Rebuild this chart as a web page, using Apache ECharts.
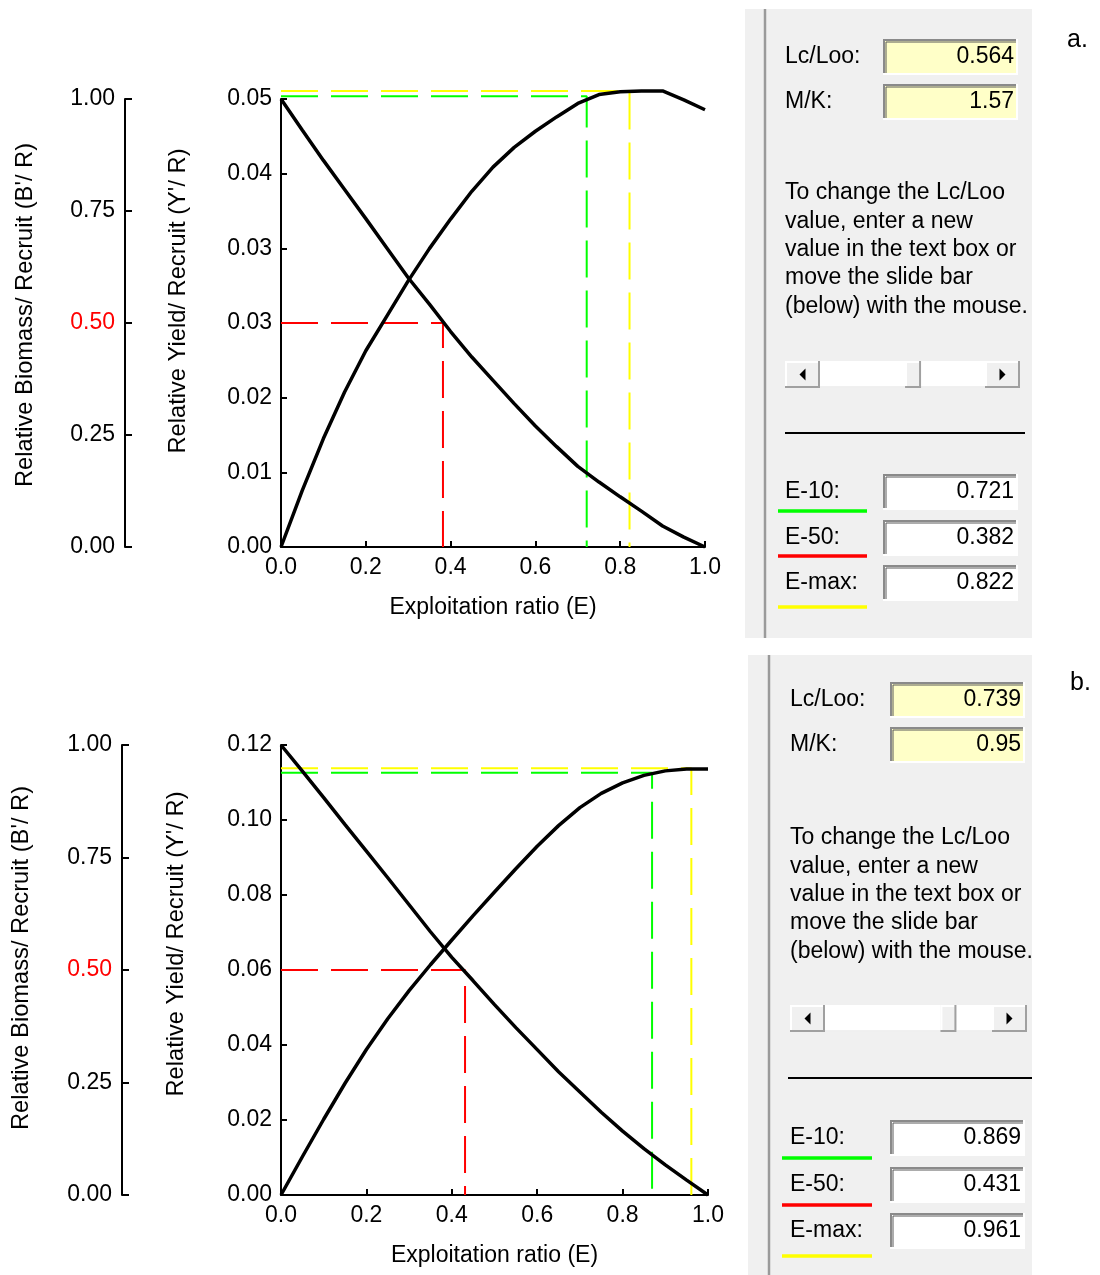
<!DOCTYPE html>
<html><head><meta charset="utf-8">
<script src="https://cdn.jsdelivr.net/npm/echarts@6/dist/echarts.min.js"></script>
<style>html,body{margin:0;padding:0;background:#fff}#c{width:1100px;height:1275px}</style>
</head><body><div id="c"></div>
<script>
// ---------- data ----------
const E = [0,0.05,0.1,0.15,0.2,0.25,0.3,0.35,0.4,0.45,0.5,0.55,0.6,0.65,0.7,0.75,0.8,0.85,0.9,0.95,1.0];
// panel a (Lc/Loo = 0.564, M/K = 1.57)
const biomassA = [1.0,0.931,0.863,0.798,0.733,0.667,0.601,0.542,0.481,0.424,0.372,0.320,0.270,0.224,0.180,0.145,0.112,0.080,0.047,0.022,0.0];
const yieldA   = [0,0.0063,0.0121,0.0173,0.0219,0.0258,0.0297,0.0333,0.0366,0.0397,0.0424,0.0446,0.0464,0.0480,0.0495,0.0505,0.0508,0.0509,0.0509,0.0499,0.0488];
// panel b (Lc/Loo = 0.739, M/K = 0.95)
const biomassB = [1.0,0.942,0.883,0.823,0.764,0.705,0.645,0.585,0.528,0.476,0.423,0.372,0.323,0.274,0.229,0.184,0.142,0.103,0.067,0.033,0.0];
const yieldB   = [0,0.0102,0.0202,0.0298,0.0388,0.0470,0.0545,0.0614,0.0680,0.0745,0.0808,0.0870,0.0930,0.0985,0.1033,0.1071,0.1099,0.1119,0.1131,0.1136,0.1136];
// axis tick labels
const xTickLabels = ['0.0','0.2','0.4','0.6','0.8','1.0'];
const biomassTickLabels = ['0.00','0.25','0.50','0.75','1.00'];
const yieldTickLabelsA = ['0.00','0.01','0.02','0.03','0.03','0.04','0.05'];
const yieldTickLabelsB = ['0.00','0.02','0.04','0.06','0.08','0.10','0.12'];
const yieldMaxA = 0.05, yieldMaxB = 0.12;
// E-10, E-50, E-max
const eLabels = ['E-10:','E-50:','E-max:'];
const eValuesA = [0.721, 0.382, 0.822];
const eValuesB = [0.869, 0.431, 0.961];
// levels of the reference lines: Y'/R at E-10, B'/R = 50%, Y'/R max
const refLevelsA = [0.0503, 0.5, 0.0509];
const refLevelsB = [0.1126, 0.5, 0.1138];
const paramLabels = ['Lc/Loo:', 'M/K:'];
const paramsA = ['0.564', '1.57'];
const paramsB = ['0.739', '0.95'];
const helpLines = ['To change the Lc/Loo','value, enter a new','value in the text box or','move the slide bar','(below) with the mouse.'];
const panelLetters = ['a.', 'b.'];
const xName = 'Exploitation ratio (E)';
const biomassName = "Relative Biomass/ Recruit (B'/ R)";
const yieldName = "Relative Yield/ Recruit (Y'/ R)";

// ---------- styling ----------
const FONT = 'Liberation Sans, Arial, sans-serif';
const FS = 23;
const refColors = ['#00ff00', '#ff0000', '#ffff00'];
const dash = [37, 13];

const grids = [
  {left: 281, top: 99, width: 424, height: 448},
  {left: 281, top: 745, width: 427, height: 450}
];
const biomassOffsets = [156, 159];

function xAxisFor(i) {
  return {
    gridIndex: i, type: 'value', min: 0, max: 1, interval: 0.2,
    name: xName, nameLocation: 'middle', nameGap: 49,
    nameTextStyle: {color: '#000', fontSize: FS, fontFamily: FONT},
    axisLine: {lineStyle: {color: '#000', width: 2}},
    axisTick: {inside: true, length: 6, lineStyle: {color: '#000', width: 2}},
    axisLabel: {color: '#000', fontSize: FS, fontFamily: FONT, margin: 9,
      formatter: v => xTickLabels[Math.round(v / 0.2)]},
    splitLine: {show: false}
  };
}
function biomassAxisFor(i) {
  return {
    gridIndex: i, type: 'value', position: 'left', offset: biomassOffsets[i],
    min: 0, max: 1, interval: 0.25,
    axisLine: {show: true, onZero: false, lineStyle: {color: '#000', width: 2}},
    axisTick: {show: true, inside: true, length: 7, lineStyle: {color: '#000', width: 2}},
    axisLabel: {fontSize: FS, fontFamily: FONT, margin: 10,
      color: v => Math.abs(+v - 0.5) < 1e-9 ? '#ff0000' : '#000',
      formatter: v => biomassTickLabels[Math.round(v / 0.25)]},
    splitLine: {show: false}
  };
}
function yieldAxisFor(i, max, labels) {
  const iv = max / 6;
  return {
    gridIndex: i, type: 'value', position: 'left', offset: 0,
    min: 0, max: max, interval: iv,
    axisLine: {show: true, onZero: false, lineStyle: {color: '#000', width: 2}},
    axisTick: {show: true, inside: true, length: 6, lineStyle: {color: '#000', width: 2}},
    axisLabel: {color: '#000', fontSize: FS, fontFamily: FONT, margin: 9,
      formatter: v => labels[Math.round(v / iv)]},
    splitLine: {show: false}
  };
}

function curve(xi, yi, ys) {
  return {type: 'line', xAxisIndex: xi, yAxisIndex: yi, data: E.map((e, k) => [e, ys[k]]),
    symbol: 'none', clip: false, z: 5, silent: true,
    lineStyle: {color: '#000', width: 3.5}};
}
function refLine(xi, yi, e, level, color) {
  return {type: 'line', xAxisIndex: xi, yAxisIndex: yi,
    data: [[0, level], [e, level], [e, 0]],
    symbol: 'none', clip: false, z: 3, silent: true,
    lineStyle: {color: color, width: 2, type: dash}};
}

function seriesFor(i, bio, yld, evals, levels) {
  const bIdx = i * 2, yIdx = i * 2 + 1;
  return [
    refLine(i, yIdx, evals[0], levels[0], refColors[0]),
    refLine(i, bIdx, evals[1], levels[1], refColors[1]),
    refLine(i, yIdx, evals[2], levels[2], refColors[2]),
    curve(i, bIdx, bio),
    curve(i, yIdx, yld)
  ];
}

// ---------- the Windows-style side panel (decoration) ----------
function txt(x, y, s, opts) {
  return Object.assign({type: 'text', x: x, y: y, silent: true,
    style: Object.assign({text: s, fill: '#000', font: FS + 'px ' + FONT,
      textAlign: 'left', textVerticalAlign: 'middle'}, (opts || {}))});
}
function line(x1, y1, x2, y2, color, w) {
  return {type: 'line', silent: true, shape: {x1, y1, x2, y2}, style: {stroke: color, lineWidth: w}};
}
function poly(points, color, w) {
  return {type: 'polyline', silent: true, shape: {points}, style: {stroke: color, lineWidth: w, fill: null}};
}
function rect(x0, y0, x1, y1, fill) {
  return {type: 'rect', silent: true, shape: {x: x0, y: y0, width: x1 - x0, height: y1 - y0}, style: {fill: fill}};
}
function sunken(x0, y0, x1, y1, fill) {
  return [
    rect(x0, y0, x1, y1, fill),
    poly([[x0 + 1, y1], [x0 + 1, y0 + 1], [x1, y0 + 1]], '#8a8a8a', 2),
    poly([[x0 + 3, y1 - 2], [x0 + 3, y0 + 3], [x1 - 2, y0 + 3]], '#5a5a5a', 1),
    poly([[x0, y1 - 1], [x1 - 1, y1 - 1], [x1 - 1, y0]], '#ffffff', 2)
  ];
}
function raised(x0, y0, x1, y1) {
  return [
    rect(x0, y0, x1, y1, '#f0f0f0'),
    poly([[x0 + 1, y1], [x0 + 1, y0 + 1], [x1, y0 + 1]], '#ffffff', 2),
    poly([[x0, y1 - 1], [x1 - 1, y1 - 1], [x1 - 1, y0]], '#a0a0a0', 2)
  ];
}
function tri(points) {
  return {type: 'polygon', silent: true, shape: {points}, style: {fill: '#000'}};
}

function panel(L, params, evals, letter) {
  const el = [];
  el.push(rect(L.bg[0], L.bg[1], L.bg[2], L.bg[3], '#f0f0f0'));
  el.push(line(L.vline, L.bg[1], L.vline, L.bg[3], '#9a9a9a', 2.5));
  // parameter rows
  paramLabels.forEach((lab, k) => {
    const yc = L.rows[k];
    el.push(...sunken(L.bx0, yc - 18, L.bx1, yc + 18, '#ffffc8'));
    el.push(txt(L.lx, yc, lab));
    el.push(txt(L.bx1 - 4, yc, params[k], {textAlign: 'right'}));
  });
  // help text
  helpLines.forEach((s, k) => el.push(txt(L.lx, L.help0 + k * L.helpStep, s)));
  // scroll bar; thumb placed at the Lc/Loo value
  const s = L.scroll;
  el.push(rect(s[0], s[1], s[2], s[3], '#ffffff'));
  el.push(line(s[0], s[3] - 1, s[2], s[3] - 1, '#e0e0e0', 1));
  const bw = 35, t0 = s[0] + bw, t1 = s[2] - bw, thumbW = 16;
  const tx = t0 + parseFloat(params[0]) * (t1 - t0) - thumbW / 2;
  el.push(...raised(s[0], s[1], s[0] + bw, s[3]));
  el.push(...raised(s[2] - bw, s[1], s[2], s[3]));
  el.push(...raised(tx, s[1], tx + thumbW, s[3]));
  const ym = (s[1] + s[3]) / 2, lc = s[0] + bw / 2, rc = s[2] - bw / 2;
  el.push(tri([[lc - 3, ym], [lc + 3, ym - 6], [lc + 3, ym + 6]]));
  el.push(tri([[rc + 3, ym], [rc - 3, ym - 6], [rc - 3, ym + 6]]));
  // separator rule
  el.push(line(L.rule[0], L.rule[1], L.rule[2], L.rule[1], '#000', 2));
  // E values
  eLabels.forEach((lab, k) => {
    const yc = L.erows[k];
    el.push(...sunken(L.bx0, yc - 18, L.bx1, yc + 18, '#ffffff'));
    el.push(txt(L.lx, yc, lab));
    el.push(txt(L.bx1 - 4, yc, evals[k].toFixed(3), {textAlign: 'right'}));
    el.push(line(L.ulx0, L.ul[k], L.ulx1, L.ul[k], refColors[k], 3.5));
  });
  el.push(txt(L.letter[0], L.letter[1], letter, {font: '25px ' + FONT}));
  return el;
}

const layoutA = {bg: [745, 9, 1032, 638], vline: 765, lx: 785, bx0: 883, bx1: 1018,
  rows: [57, 102], help0: 193, helpStep: 28.3, scroll: [785, 361, 1020, 388],
  rule: [785, 433, 1025], erows: [492, 538, 583], ul: [511, 556, 607], ulx0: 778, ulx1: 867,
  letter: [1067, 40]};
const layoutB = {bg: [748, 655, 1032, 1275], vline: 769, lx: 790, bx0: 890, bx1: 1025,
  rows: [700, 745], help0: 838, helpStep: 28.3, scroll: [790, 1005, 1027, 1032],
  rule: [788, 1078, 1032], erows: [1138, 1185, 1231], ul: [1158, 1205, 1256], ulx0: 782, ulx1: 872,
  letter: [1070, 683]};

function nameTexts() {
  const rot = Math.PI / 2;
  const mk = (x, y, s) => ({type: 'text', x, y, rotation: rot, silent: true,
    style: {text: s, fill: '#000', font: '23.7px ' + FONT, textAlign: 'center', textVerticalAlign: 'middle'}});
  return [
    mk(25, 315, biomassName), mk(178, 301, yieldName),
    mk(21, 958, biomassName), mk(176, 944, yieldName)
  ];
}

const baseGraphics = [].concat(
  panel(layoutA, paramsA, eValuesA, panelLetters[0]),
  panel(layoutB, paramsB, eValuesB, panelLetters[1]),
  nameTexts()
);

function buildOption(extra) {
  return {
    animation: false,
    backgroundColor: '#ffffff',
    textStyle: {fontFamily: FONT},
    grid: grids,
    xAxis: [xAxisFor(0), xAxisFor(1)],
    yAxis: [biomassAxisFor(0), yieldAxisFor(0, yieldMaxA, yieldTickLabelsA),
            biomassAxisFor(1), yieldAxisFor(1, yieldMaxB, yieldTickLabelsB)],
    series: [].concat(
      seriesFor(0, biomassA, yieldA, eValuesA, refLevelsA),
      seriesFor(1, biomassB, yieldB, eValuesB, refLevelsB)
    ),
    graphic: {elements: baseGraphics.concat(extra || [])}
  };
}

const chart = echarts.init(document.getElementById('c'), null, {renderer: 'canvas'});
chart.setOption(buildOption());
// red 0.50 ticks on the biomass axes, placed through the axis scale
const redTicks = [0, 1].map(i => {
  const y = chart.convertToPixel({yAxisIndex: i * 2}, 0.5);
  const x = grids[i].left - biomassOffsets[i];
  return line(x, y, x + 7, y, '#ff0000', 2);
});
chart.setOption(buildOption(redTicks), {notMerge: true});
</script>
</body></html>
